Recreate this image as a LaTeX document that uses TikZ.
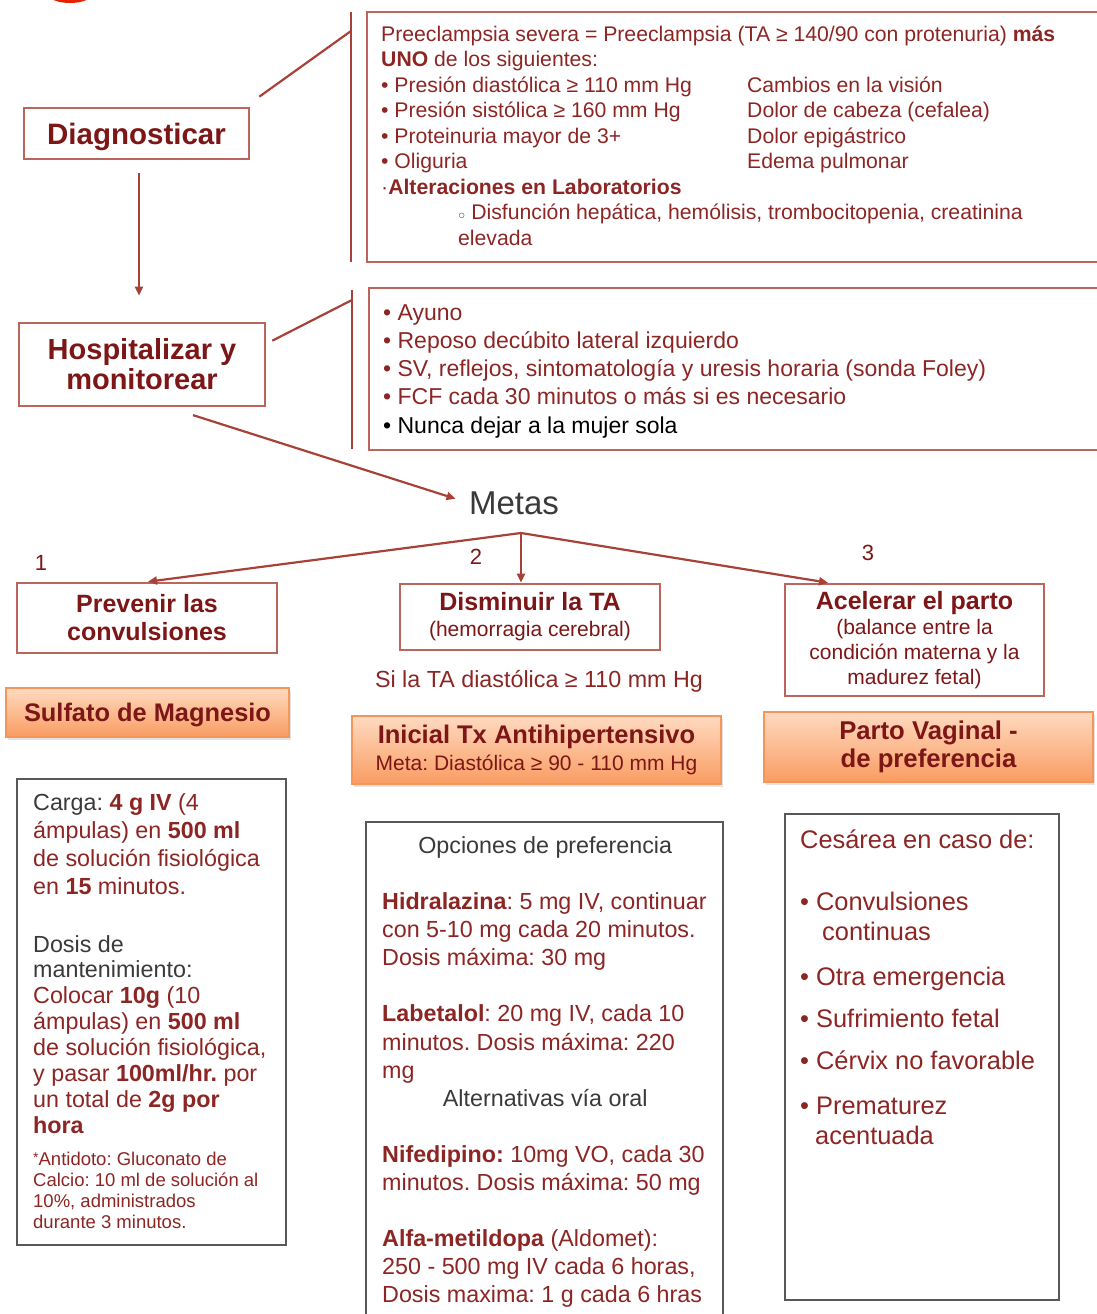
\documentclass[tikz,border=0pt]{standalone}
\usepackage{fontspec}
\setmainfont{Liberation Sans}
\usepackage{xcolor}
\definecolor{titlered}{RGB}{125, 22, 22}
\definecolor{bodyred}{RGB}{140, 38, 36}
\definecolor{framered}{RGB}{186, 102, 92}
\definecolor{linkred}{RGB}{168, 66, 56}
\definecolor{darkgray}{RGB}{58, 58, 58}
\definecolor{framegray}{RGB}{88, 88, 88}
\definecolor{peach}{RGB}{255, 218, 192}
\definecolor{deeporange}{RGB}{249, 156, 98}
\definecolor{edgeorange}{RGB}{244, 150, 90}
\usetikzlibrary{arrows.meta, calc, shadows}
\newcommand{\fsz}[2]{\fontsize{#1}{#2}\selectfont}
\newcommand{\subtxt}[1]{{\fsz{21}{23}\mdseries #1}}
\frenchspacing

\begin{document}
\begin{tikzpicture}[x=1pt, y=-1pt,
    goalbox/.style={draw=framered, line width=2.6pt, fill=white, text=titlered, align=center, inner sep=0pt},
    dosebox/.style={draw=framegray, line width=2pt, fill=white},
    orangebox/.style={draw=edgeorange, line width=1.5pt, top color=peach, bottom color=deeporange,
        text=titlered, align=center, inner sep=0pt,
        drop shadow={shadow xshift=2pt, shadow yshift=-3pt, opacity=0.22}},
    txt/.style={anchor=north west, inner sep=0pt, align=left, text=bodyred},
    link/.style={linkred, line width=2.2pt},
    arr/.style={link, -{Triangle[length=9pt, width=8pt]}}]
    \useasboundingbox (0,0) rectangle (1096,1314);
    \fill[red!70!orange!90!black] (70,-6) ellipse (22pt and 9pt);

    % left column
    \node[goalbox, minimum width=225pt, minimum height=51pt, text depth=0pt, font=\fsz{29.5}{31}\bfseries] (diag) at (136.5,133.5) {Diagnosticar};
    \node[goalbox, minimum width=246pt, minimum height=83pt, font=\fsz{29}{30}\bfseries] (hosp) at (142,364.5) {Hospitalizar y\\monitorear};
    \draw[arr, shorten <=13pt, shorten >=26pt] (diag.south -| 139,0) -- (hosp.north -| 139,0);

    % criteria boxes
    \draw[framered, line width=2.6pt] (367,12) rectangle (1110,262);
    \draw[framered, line width=2.6pt] (369,288) rectangle (1110,450);
    \draw[link] (351,12) coordinate (barA) -- (351,262);
    \draw[link] (352,290) coordinate (barB) -- (352,449);
    \draw[link] ($(diag.north east)+(9,-10)$) -- ($(barA)+(0,19)$);
    \draw[link] ($(hosp.north east)+(6,19)$) -- ($(barB)+(0,10)$);

    \node[txt, font=\fsz{21.2}{25.5}] (crit) at (381,25.5) {%
        Preeclampsia severa = Preeclampsia (TA ≥ 140/90 con protenuria) \textbf{más}\\
        \textbf{UNO} de los siguientes:\\
        \makebox[366pt][l]{• Presión diastólica ≥ 110 mm Hg}Cambios en la visión\\
        \makebox[366pt][l]{• Presión sistólica ≥ 160 mm Hg}Dolor de cabeza (cefalea)\\
        \makebox[366pt][l]{• Proteinuria mayor de 3+}Dolor epigástrico\\
        \makebox[366pt][l]{• Oliguria}Edema pulmonar\\
        ·\textbf{Alteraciones en Laboratorios}\\
        \hspace*{77pt}{\fsz{12}{12}○} Disfunción hepática, hemólisis, trombocitopenia, creatinina\\
        \hspace*{77pt}elevada};
    \node[txt, font=\fsz{23}{28.3}] (care) at (383,304) {%
        • Ayuno\\
        • Reposo decúbito lateral izquierdo\\
        • SV, reflejos, sintomatología y uresis horaria (sonda Foley)\\
        • FCF cada 30 minutos o más si es necesario\\
        \textcolor{black}{• Nunca dejar a la mujer sola}};

    % goals
    \node[text=darkgray, font=\fsz{33}{35}, inner sep=0pt] (metas) at (514,503) {Metas};
    \draw[arr, shorten <=6pt, shorten >=14pt] (hosp.south east) ++(-79,6) coordinate (h0) -- (metas.west);
    \coordinate (fork) at (521,533);

    \node[goalbox, minimum width=260pt, minimum height=70pt, font=\fsz{25}{28}\bfseries] (prev) at (147,618) {Prevenir las\\convulsiones};
    \node[goalbox, minimum width=260pt, minimum height=66pt, font=\fsz{25}{26}\bfseries] (dism) at (530,617) {Disminuir la TA\\\subtxt{(hemorragia cerebral)}};
    \node[goalbox, minimum width=259pt, minimum height=112pt, font=\fsz{25}{25}\bfseries] (acel) at (914.5,640) {Acelerar el parto\\\subtxt{(balance entre la}\\\subtxt{condición materna y la}\\\subtxt{madurez fetal)}};
    \draw[arr] (fork) -- (prev.north -| 148,0);
    \draw[arr] (fork) -- (dism.north -| 521,0);
    \draw[arr] (fork) -- (acel.north -| 828,0);
    \node[text=titlered, font=\fsz{22}{22}] (n1) at (41,563) {1};
    \node[text=titlered, font=\fsz{22}{22}] (n2) at (476,557) {2};
    \node[text=titlered, font=\fsz{22}{22}] (n3) at (868,553) {3};

    \node[text=bodyred, font=\fsz{23.3}{23}] (cond) at (539,681) {Si la TA diastólica ≥ 110 mm Hg};

    % treatments
    \node[orangebox, minimum width=283pt, minimum height=49pt, text depth=0pt, font=\fsz{25.4}{26}\bfseries] (sulf) at (147.5,712.5) {Sulfato de Magnesio};
    \node[orangebox, minimum width=369pt, minimum height=68pt, font=\fsz{25.5}{27}\bfseries] (inic) at (536.5,750) {Inicial Tx Antihipertensivo\\\subtxt{Meta: Diastólica ≥ 90 - 110 mm Hg}};
    \node[orangebox, minimum width=329pt, minimum height=70pt, font=\fsz{25.7}{28}\bfseries] (parto) at (928.5,747) {Parto Vaginal -\\de preferencia};

    % doses
    \draw[dosebox] (17,779) rectangle (286,1245);
    \draw[dosebox] (366,822) rectangle (723,1330);
    \draw[dosebox] (785,814) rectangle (1059,1300);

    \node[txt, font=\fsz{23.3}{28.3}] (carga) at (33,793) {%
        \textcolor{darkgray}{Carga:} \textbf{4 g IV} (4\\
        ámpulas) en \textbf{500 ml}\\
        de solución fisiológica\\
        en \textbf{15} minutos.};
    \node[txt, font=\fsz{23.3}{25.9}] (mant) at (33,935) {%
        \textcolor{darkgray}{Dosis de}\\
        \textcolor{darkgray}{mantenimiento:}\\
        Colocar \textbf{10g} (10\\
        ámpulas) en \textbf{500 ml}\\
        de solución fisiológica,\\
        y pasar \textbf{100ml/hr.} por\\
        un total de \textbf{2g por}\\
        \textbf{hora}};
    \node[txt, font=\fsz{18.5}{21}] (antid) at (33,1152) {%
        \raisebox{3pt}{\fsz{14}{14}*}Antidoto: Gluconato de\\
        Calcio: 10 ml de solución al\\
        10\%, administrados\\
        durante 3 minutos.};

    \node[txt, font=\fsz{23.3}{28.06}] (opts) at (382,836.5) {%
        \makebox[326pt][c]{\textcolor{darkgray}{Opciones de preferencia}}\\
        \\
        \textbf{Hidralazina}: 5 mg IV, continuar\\
        con 5-10 mg cada 20 minutos.\\
        Dosis máxima: 30 mg\\
        \\
        \textbf{Labetalol}: 20 mg IV, cada 10\\
        minutos. Dosis máxima: 220\\
        mg\\
        \makebox[326pt][c]{\textcolor{darkgray}{Alternativas vía oral}}\\
        \\
        \textbf{Nifedipino:} 10mg VO, cada 30\\
        minutos. Dosis máxima: 50 mg\\
        \\
        \textbf{Alfa-metildopa} (Aldomet):\\
        250 - 500 mg IV cada 6 horas,\\
        Dosis maxima: 1 g cada 6 hras};

    \node[txt, font=\fsz{25.4}{30}] (cesar) at (800,830) {%
        Cesárea en caso de:\\[32pt]
        • Convulsiones\\
        \hspace*{22pt}continuas\\[15pt]
        • Otra emergencia\\[12pt]
        • Sufrimiento fetal\\[12pt]
        • Cérvix no favorable\\[15pt]
        • Prematurez\\
        \hspace*{15pt}acentuada};
\end{tikzpicture}
\end{document}
